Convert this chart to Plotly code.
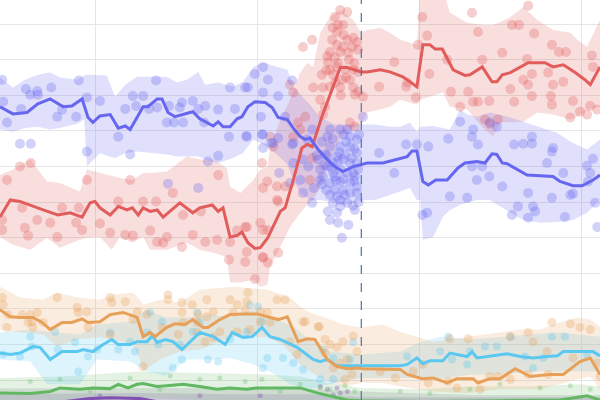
import plotly.graph_objects as go

# x = days from first grid line, y = vote share (%)
ELECTION_DAY = 49.3

# ---- blue ----
blue_day = [-17.6, -15.2, -12.6, -10.6, -8.3, -5.9, -4.3, -2.4, -1.3, -0.4, 0.9, 2.8, 4.3, 5.6, 6.5, 8.9, 9.8,
            11.5, 12.4, 13.5, 14.8, 18.1, 19.4, 21.9, 22.8, 23.7, 25.0, 26.3, 27.2, 28.3, 29.6, 31.5, 32.8, 33.9,
            35.6, 36.7, 38.0, 38.9, 39.8, 41.3, 43.0, 44.4, 45.9, 47.8, 49.4, 50.4, 53.3, 55.9, 57.8, 58.7, 59.6,
            60.7, 61.7, 63.1, 65.2, 67.2, 68.5, 70.7, 72.2, 73.5, 74.4, 75.4, 76.3, 80.0, 81.9, 84.8, 86.1, 88.5,
            90.2, 92.2, 93.5]
blue_avg = [43.4, 42.4, 42.6, 43.8, 44.5, 43.4, 43.5, 44.5, 41.9, 41.2, 42.1, 42.3, 40.4, 40.7, 40.2, 43.4, 43.4,
            44.5, 44.5, 42.6, 42.0, 42.7, 41.7, 40.7, 41.3, 40.6, 40.6, 41.7, 42.0, 43.4, 44.1, 44.0, 43.3, 41.9,
            41.6, 40.4, 39.2, 38.8, 39.0, 37.4, 36.0, 35.0, 34.3, 35.0, 35.3, 35.5, 35.5, 36.0, 36.4, 37.2, 37.2,
            32.9, 32.4, 33.1, 33.1, 34.8, 35.5, 35.7, 35.5, 36.8, 36.7, 35.5, 35.4, 33.8, 33.7, 33.6, 32.9, 32.3,
            32.3, 33.1, 33.8]
blue_band_day = [-17.6, -15.2, -13.0, -10.6, -8.3, -6.5, -3.3, -2.0, -1.5, 0.9, 2.2, 3.7, 5.6, 7.8, 10.2, 13.3,
                 15.2, 17.0, 19.1, 20.4, 22.8, 25.6, 27.4, 29.3, 31.1, 33.7, 35.6, 36.7, 38.0, 39.8, 41.7, 44.4,
                 46.3, 49.3, 51.9, 54.6, 56.5, 58.3, 59.6, 60.2, 60.7, 62.6, 64.4, 65.7, 67.6, 68.9, 70.7, 73.1,
                 76.9, 79.3, 82.4, 85.6, 88.5, 91.1, 93.5]
blue_band_hi = [47.5, 46.1, 47.2, 47.9, 48.2, 47.5, 47.2, 47.8, 47.9, 47.8, 47.8, 44.8, 46.5, 47.6, 47.6, 47.6,
                46.8, 47.2, 48.3, 46.5, 46.8, 46.2, 46.9, 49.0, 49.6, 49.0, 48.6, 46.2, 45.1, 43.7, 41.9, 40.9,
                40.9, 40.9, 40.9, 40.6, 40.6, 41.2, 39.9, 40.6, 40.6, 40.7, 40.4, 40.2, 43.0, 42.3, 42.0, 42.6,
                41.9, 41.3, 40.6, 39.7, 38.3, 37.4, 38.8]
blue_band_lo = [40.2, 39.9, 40.4, 40.6, 40.2, 40.4, 41.0, 41.6, 35.0, 36.9, 36.5, 36.2, 36.9, 37.1, 36.9, 36.7,
                36.4, 36.4, 36.4, 36.0, 35.5, 36.2, 36.9, 38.8, 38.1, 36.7, 35.3, 33.1, 31.3, 30.3, 30.3, 29.9,
                29.6, 30.3, 30.3, 31.0, 31.5, 32.0, 30.3, 30.3, 24.7, 25.1, 27.9, 28.9, 29.6, 29.9, 30.3, 30.3,
                28.5, 27.5, 27.1, 27.2, 27.5, 28.5, 30.3]
blue_poll_day = [-17.2, -17.0, -16.3, -13.9, -11.9, -13.7, -12.8, -12.0, -10.7, -10.6, -8.1, -7.0, -6.1, -3.5, -3.0,
                 -1.5, -1.5, 0.9, 4.3, 5.6, 6.5, 7.0, 7.6, 8.9, 10.0, 11.3, 11.5, 13.3, 13.7, 14.6, 15.7, 16.1,
                 16.3, 18.1, 19.1, 20.4, 20.2, 22.8, 24.8, 25.0, 25.9, 27.8, 28.3, 28.0, 29.6, 31.1, 32.0, 31.1,
                 33.9, 30.7, 31.1, 32.6, 33.9, 35.2, 36.5, 36.5, 22.8, 20.9, 13.5, 19.1,
                 46.7, 49.6, 47.2, 48.5, 43.0, 43.5, 45.4, 47.2, 48.5, 44.8, 45.9, 47.2, 48.5, 44.1, 43.0, 41.7,
                 42.2, 44.1, 45.4, 46.7, 47.8, 48.7, 41.7, 43.5, 45.4, 47.2, 48.5, 44.4, 45.9, 47.2, 48.5, 44.8,
                 45.4, 46.7, 45.4, 44.8, 43.1, 43.5, 45.0, 45.7, 39.3, 40.2, 43.5, 45.4, 38.5, 36.7, 36.7, 38.0,
                 38.5, 40.2, 36.1, 34.1, 33.0, 30.9, 28.1, 31.1, 42.6, 46.3, 48.1, 44.4, 41.3, 42.8, 48.1, 46.9,
                 42.0, 44.0, 46.0, 48.0, 43.0, 45.0, 47.5, 42.5, 44.6, 46.0, 48.0, 43.5, 46.2, 48.8, 44.0, 47.8,
                 42.0, 41.0, 39.5, 40.5, 46.5, 48.9, 45.2, 43.8,
                 52.6, 55.4, 57.6, 59.6, 61.7, 60.6, 61.5, 65.4, 67.6, 69.8, 70.0, 70.9, 73.1, 74.4, 80.9, 80.9,
                 79.3, 77.6, 84.8, 84.6, 83.7, 69.8, 71.7, 73.0, 70.7, 75.4, 80.2, 86.7, 91.1, 92.2, 91.7, 91.3,
                 65.7, 68.9, 84.6, 88.5, 88.0, 78.3, 81.1, 81.5, 80.2, 87.0, 77.2, 93.0, 92.6]
blue_poll = [47.2, 44.1, 41.2, 38.2, 38.2, 43.1, 45.9, 45.1, 45.6, 45.1, 46.1, 42.0, 43.0, 42.0, 47.1,
             44.7, 37.1, 44.2, 39.2, 43.1, 36.7, 44.9, 43.5, 44.9, 43.1, 47.1, 43.3, 41.2, 43.5, 41.2, 43.3, 44.0,
             41.2, 44.2, 43.1, 43.5, 41.2, 43.0, 39.2, 46.1, 43.1, 46.1, 46.1, 39.3, 48.0, 49.0, 47.2, 45.4,
             44.9, 42.0, 39.5, 38.3, 39.0, 42.0, 47.1, 38.1, 36.5, 35.7, 32.6, 32.0,
             40.2, 42.0, 39.2, 38.8, 39.2, 37.8, 37.8, 37.8, 36.9, 36.4, 36.0, 35.5, 35.5, 35.5, 35.0, 34.6,
             33.6, 34.1, 34.6, 34.1, 34.1, 34.6, 33.1, 32.7, 32.9, 32.7, 32.2, 31.7, 31.7, 31.3, 31.3, 30.8,
             30.3, 29.9, 29.4, 28.5, 28.7, 27.5, 27.1, 25.0, 38.8, 40.2, 40.2, 40.2, 36.0, 35.5, 38.3, 33.1,
             31.3, 29.9, 32.7, 34.1, 38.3, 39.5, 39.2, 37.6, 36.7, 36.7, 33.6, 33.6, 36.0, 31.7, 28.9, 26.8,
             38.5, 38.9, 39.5, 37.5, 36.5, 35.8, 36.2, 35.2, 33.0, 33.3, 33.0, 31.0, 31.0, 30.0, 29.8, 29.5,
             32.5, 36.5, 35.0, 32.0, 38.5, 39.5, 37.0, 34.8,
             36.9, 34.1, 38.1, 38.1, 37.8, 28.2, 28.5, 38.9, 41.3, 39.2, 40.2, 38.1, 41.2, 40.6, 39.2, 38.2,
             38.2, 38.1, 37.6, 37.1, 35.5, 35.0, 35.0, 33.6, 33.1, 32.2, 31.3, 34.1, 35.1, 36.1, 34.1, 32.9,
             30.8, 30.6, 30.6, 31.2, 31.0, 29.4, 29.4, 28.7, 27.8, 27.9, 28.2, 26.5, 29.9]

# ---- red ----
red_day = [-17.6, -15.7, -13.9, -11.5, -9.6, -6.9, -4.6, -2.4, -0.9, 0.0, 0.9, 2.8, 4.3, 5.9, 6.9, 8.0, 8.9, 10.2,
           11.5, 12.6, 15.7, 18.1, 19.4, 21.7, 22.8, 23.7, 25.0, 26.3, 27.2, 28.3, 29.6, 30.6, 32.0, 34.3, 35.2,
           36.7, 38.3, 39.3, 40.2, 42.0, 44.1, 45.4, 46.7, 49.3, 50.4, 52.8, 54.6, 57.0, 59.6, 60.7, 62.0, 63.0,
           64.3, 66.3, 68.5, 69.4, 71.7, 73.5, 74.4, 75.4, 76.9, 80.2, 81.1, 83.3, 84.8, 86.7, 88.9, 90.7, 91.7,
           93.5]
red_avg = [27.9, 30.3, 30.1, 29.4, 28.9, 28.2, 28.5, 27.9, 29.9, 30.1, 29.2, 28.2, 29.4, 28.9, 29.2, 28.2, 29.2,
           28.7, 28.9, 27.9, 29.9, 28.5, 29.2, 29.6, 28.7, 29.2, 25.1, 25.3, 25.8, 24.3, 23.5, 23.6, 25.0, 28.7,
           29.2, 33.1, 37.6, 38.1, 37.8, 42.0, 46.1, 48.9, 48.9, 48.3, 48.3, 48.6, 48.3, 47.6, 46.2, 52.1, 52.1,
           51.5, 51.5, 48.6, 47.8, 47.9, 49.0, 46.9, 46.9, 47.9, 48.2, 49.6, 49.6, 49.6, 49.0, 49.3, 48.2, 47.2,
           46.5, 49.0]
red_band_day = [-17.6, -15.2, -12.0, -8.9, -6.5, -2.8, -1.5, 0.9, 3.1, 4.6, 6.9, 8.9, 10.2, 13.3, 17.0, 19.4, 21.9,
                24.4, 25.0, 26.9, 29.3, 30.6, 31.9, 32.4, 34.3, 36.1, 38.0, 39.3, 40.4, 41.7, 43.5, 45.4, 47.8,
                49.3, 50.4, 52.8, 54.6, 56.5, 59.6, 60.2, 64.4, 65.7, 68.9, 71.9, 73.7, 75.0, 76.9, 79.3, 81.9,
                84.8, 88.0, 89.3, 91.1, 93.5]
red_band_hi = [33.8, 34.6, 36.0, 32.9, 32.7, 31.5, 34.6, 34.1, 33.7, 33.4, 33.1, 34.1, 34.1, 34.3, 36.4, 36.0,
               36.0, 34.8, 32.2, 31.3, 33.1, 34.6, 35.0, 37.4, 41.6, 44.4, 48.2, 49.6, 49.0, 53.8, 56.0, 57.0, 55.6,
               53.8, 54.2, 54.5, 53.8, 52.8, 52.1, 60.0, 60.0, 56.6, 55.2, 54.9, 54.9, 55.3, 56.0, 57.4, 55.6,
               54.2, 53.8, 52.8, 51.8, 55.6]
red_band_lo = [25.1, 24.0, 23.3, 25.0, 23.6, 24.7, 25.0, 25.1, 23.3, 25.1, 24.3, 25.1, 23.3, 23.3, 24.3, 23.3,
               22.9, 22.3, 18.7, 18.7, 19.1, 18.1, 18.4, 20.9, 23.7, 26.5, 28.5, 29.6, 30.3, 32.2, 36.0, 38.8, 40.4,
               40.9, 42.6, 43.0, 43.4, 44.4, 43.7, 44.4, 45.4, 43.4, 43.0, 40.4, 39.2, 41.2, 41.3, 41.3, 42.6,
               42.3, 41.6, 42.0, 43.0, 43.4]
red_poll_day = [-16.3, -13.9, -11.9, -17.2, -17.2, -13.5, -13.0, -12.4, -10.7, -8.3, -7.0, -6.1, -3.5, -3.0, -2.4,
                -1.5, 0.9, 2.8, 4.3, 5.6, 6.5, 7.0, 8.9, 10.2, 11.3, 11.5, 12.6, 13.3, 14.4, 16.1, 16.3, 18.1,
                19.6, 20.4, 22.6, 22.8, 25.0, 24.8, 26.3, 27.8, 27.8, 28.1, 29.6, 30.6, 31.1, 32.0, 33.9, 33.7,
                38.5, 40.2, 36.7, 36.1, 37.6, 38.9, 38.0, 36.7, 33.0, 32.4, 30.9, 31.9, 31.1, 33.7, 35.2, 33.9,
                31.1, 28.1, 31.9, 31.1, 39.8, 40.2,
                45.4, 46.7, 44.4, 45.0, 45.9, 44.8, 46.7, 47.8, 48.5, 43.9, 44.8, 45.9, 47.6, 48.7, 43.5, 45.4,
                46.9, 44.4, 43.1, 44.8, 46.3, 47.8, 48.7, 43.5, 42.0, 44.1, 45.7, 47.2, 42.2, 43.5, 47.8, 48.7,
                45.4, 41.7, 42.6, 48.1, 40.4, 49.6, 42.2, 47.2, 48.1,
                44.0, 46.0, 47.0, 45.0, 43.0, 48.0, 46.5, 44.5, 42.8, 45.5,
                52.6, 55.4, 57.6, 59.4, 59.8, 60.6, 61.5, 61.9, 57.8, 69.8, 70.9, 80.2, 77.2, 78.5, 81.3, 75.4,
                71.7, 65.2, 65.9, 69.1, 70.0, 70.9, 73.0, 67.6, 76.9, 77.6, 79.3, 80.2, 80.9, 80.0, 83.9, 84.6,
                85.9, 87.2, 86.7, 84.8, 84.6, 80.9, 88.5, 89.8, 88.0, 91.7, 92.0, 92.2, 91.1, 93.0, 72.2, 74.6,
                73.1, 84.4]
red_poll = [33.1, 35.0, 35.5, 27.5, 26.1, 29.2, 26.4, 25.3, 27.5, 27.1, 25.1, 29.2, 27.1, 29.2, 26.1,
            33.1, 27.0, 25.7, 30.1, 25.4, 33.1, 25.3, 30.1, 26.0, 30.1, 24.4, 24.3, 25.1, 31.3, 23.7, 28.2, 25.4,
            28.7, 24.4, 24.7, 33.8, 24.4, 21.9, 26.0, 26.5, 21.6, 23.0, 19.2, 27.1, 22.3, 21.5, 22.9, 30.3,
            51.8, 52.8, 45.4, 46.5, 41.2, 42.0, 40.2, 39.2, 37.8, 39.2, 35.5, 32.9, 32.0, 32.2, 32.2, 30.1,
            26.1, 26.5, 26.1, 22.2, 33.1, 36.2,
            57.0, 56.7, 56.0, 54.9, 54.9, 53.9, 52.8, 53.1, 52.5, 52.8, 52.1, 51.8, 51.8, 51.4, 51.1, 51.1,
            51.0, 50.3, 49.7, 49.0, 48.6, 48.6, 48.3, 48.6, 47.9, 47.9, 47.2, 47.2, 46.1, 46.2, 46.1, 45.5,
            46.1, 44.4, 43.4, 45.1, 46.1, 44.8, 42.3, 41.2, 40.6,
            54.5, 53.5, 50.0, 49.5, 50.5, 49.5, 47.5, 46.8, 48.5, 45.0,
            46.2, 49.7, 46.2, 44.7, 52.1, 56.0, 53.4, 48.0, 46.8, 56.6, 53.9, 57.6, 54.9, 54.9, 53.7, 51.0,
            50.0, 50.0, 45.5, 45.5, 44.1, 44.1, 44.2, 43.4, 45.9, 44.1, 47.2, 46.5, 48.0, 50.1, 48.2, 52.1,
            51.1, 51.1, 46.9, 46.5, 43.7, 44.9, 44.2, 42.7, 41.9, 43.5, 50.6, 49.0, 42.3, 43.0, 41.6, 41.6,
            41.0, 44.9]

# ---- orange ----
orange_day = [-17.6, -15.7, -13.9, -11.5, -9.8, -8.3, -6.1, -4.3, -2.4, -1.3, 0.9, 2.8, 5.2, 7.8, 8.9, 10.2, 11.1,
              13.3, 14.8, 16.7, 18.1, 20.0, 20.9, 23.1, 25.0, 27.4, 30.0, 31.9, 33.9, 35.6, 37.6, 39.3, 40.7, 43.0,
              44.8, 46.7, 48.5, 49.6, 56.5, 57.8, 60.6, 62.6, 65.2, 67.0, 70.0, 70.9, 73.1, 75.0, 77.8, 80.6,
              84.3, 86.7, 89.8, 91.7, 93.5]
orange_avg = [14.9, 13.9, 13.8, 13.8, 13.1, 12.1, 13.1, 13.1, 13.6, 13.1, 13.2, 14.2, 14.5, 13.8, 11.1, 11.7, 11.1,
              12.4, 12.9, 12.8, 13.5, 12.4, 12.4, 13.5, 14.2, 14.3, 14.3, 13.9, 13.5, 13.9, 10.4, 10.8, 10.7, 7.9,
              6.9, 6.6, 6.7, 6.6, 6.5, 5.8, 5.2, 5.3, 4.6, 5.2, 5.2, 4.6, 5.2, 5.2, 6.6, 5.5,
              5.8, 5.8, 7.6, 8.1, 5.8]
orange_band_day = [-17.6, -13.9, -9.6, -7.0, -3.3, 0.9, 3.3, 7.0, 8.3, 8.9, 12.0, 15.7, 19.4, 25.6, 31.9, 34.8,
                   36.7, 38.0, 39.8, 42.2, 45.9, 49.3, 53.3, 56.5, 62.6, 68.9, 75.0, 78.7, 82.4, 86.1, 89.3, 91.7,
                   93.5]
orange_band_hi = [18.1, 16.6, 16.3, 17.3, 16.6, 16.3, 17.0, 17.3, 16.3, 15.6, 16.3, 15.9, 17.7, 18.1, 17.7, 17.0,
                  16.3, 15.3, 14.5, 13.9, 12.8, 12.4, 12.8, 11.8, 10.4, 11.1, 11.7, 12.1, 12.1, 13.1, 13.8, 13.5,
                  12.5]
orange_band_lo = [12.1, 11.7, 11.4, 9.7, 10.7, 11.0, 10.7, 10.0, 7.9, 6.2, 7.9, 9.0, 9.3, 11.1, 11.0, 10.0,
                  8.3, 7.2, 6.2, 5.1, 4.1, 4.6, 4.6, 4.1, 3.4, 3.2, 3.7, 3.7, 3.7, 4.4, 5.1, 5.5, 3.7]
orange_poll_day = [-17.2, -17.0, -16.1, -16.3, -13.5, -12.0, -10.7, -11.7, -9.6, -12.4, -11.5, -7.0, -3.3, -3.1,
                   -1.5, -1.3, 2.8, 3.1, 5.6, 2.8, 7.0, 7.8, 8.9, 9.6, 13.5, 13.5, 16.1, 18.0, 16.1, 16.3, 12.4,
                   15.4, 18.9, 18.9, 19.1, 20.7, 21.9, 20.7, 21.9, 25.0, 26.3, 28.3, 28.1, 25.6, 27.8, 28.7, 30.6,
                   31.9, 33.7, 35.2, 32.4, 38.9, 41.3, 20.4, 23.1, 26.3, 30.6, 36.1, 37.4, 42.6, 43.5, 42.6, 44.8,
                   45.9, 47.8, 48.5, 46.7, 45.4, 44.1, 47.6, 46.3, 41.5, 38.5,
                   84.6, 88.0, 89.8, 91.7, 80.2, 76.9, 81.1, 65.7, 69.1, 60.7, 83.7, 88.5, 93.0, 58.9, 61.7, 65.4,
                   73.1, 74.6, 76.9, 80.2, 83.9, 93.5, 67.0, 71.3, 52.8, 55.6]
orange_poll = [16.6, 15.6, 14.2, 12.4, 14.2, 14.2, 14.5, 13.2, 13.1, 13.1, 12.4, 16.6, 15.2, 14.5,
               14.6, 12.4, 16.6, 15.9, 16.0, 11.4, 13.5, 14.6, 6.9, 14.2, 17.0, 16.3, 15.9, 15.6, 14.5, 13.1, 12.4,
               11.4, 13.1, 11.7, 14.2, 13.9, 11.0, 16.3, 14.6, 16.3, 15.6, 17.3, 16.0, 14.5, 14.9, 12.1, 14.6,
               14.5, 16.3, 16.3, 13.1, 13.2, 12.5, 10.4, 11.8, 11.8, 13.2, 10.4, 8.6, 10.7, 10.0, 8.8, 9.6,
               10.4, 11.2, 9.0, 7.9, 7.4, 6.7, 5.8, 5.1, 12.5, 13.2,
               13.1, 12.9, 12.4, 12.1, 11.7, 11.1, 10.4, 10.8, 10.8, 7.2, 9.0, 8.1, 7.4, 6.2, 4.6, 4.8,
               5.5, 5.5, 5.1, 5.8, 5.8, 5.5, 3.9, 3.7, 6.2, 5.3]

# ---- light blue ----
cyan_day = [-17.6, -15.7, -13.9, -11.5, -10.2, -8.3, -6.1, -3.3, -2.2, -0.4, 1.5, 3.1, 4.3, 6.5, 7.8, 9.6, 10.6,
            11.5, 13.0, 14.4, 16.1, 17.6, 19.4, 21.9, 24.1, 25.4, 27.4, 29.1, 30.9, 32.4, 34.3, 37.4, 40.4, 41.7,
            43.0, 44.8, 46.7, 49.1, 56.5, 57.8, 59.6, 60.7, 62.0, 64.4, 65.7, 68.9, 69.8, 70.7, 73.1, 76.3,
            78.7, 81.1, 83.7, 85.6, 86.7, 89.8, 92.2, 93.5]
cyan_avg = [8.8, 8.6, 8.8, 9.7, 9.6, 7.9, 9.0, 9.0, 9.3, 9.0, 10.0, 10.7, 10.0, 10.0, 10.4, 10.4, 11.2,
            10.3, 10.7, 10.4, 9.3, 10.4, 11.7, 11.1, 10.0, 11.7, 11.0, 11.1, 12.4, 11.1, 10.7, 9.6, 7.9, 7.6,
            7.9, 7.0, 7.0, 7.0, 7.0, 7.2, 8.1, 7.3, 7.7, 7.7, 8.8, 8.3, 9.0, 8.1, 8.4, 8.7,
            8.3, 8.1, 8.3, 8.4, 9.0, 9.0, 9.0, 8.4]
cyan_band_day = [-17.6, -12.0, -8.9, -2.8, 0.4, 6.5, 9.6, 13.0, 17.0, 21.3, 25.0, 29.3, 32.4, 36.1, 39.8, 43.5,
                 49.3, 56.5, 60.2, 63.9, 69.4, 75.0, 80.6, 86.1, 93.5]
cyan_band_hi = [11.7, 12.1, 11.8, 11.4, 12.8, 13.2, 14.9, 13.8, 13.8, 14.2, 13.8, 14.9, 13.8, 12.8, 10.7, 9.0,
                8.6, 9.0, 10.3, 11.1, 10.7, 11.0, 11.4, 11.7, 11.1]
cyan_band_lo = [7.9, 7.6, 4.4, 4.4, 7.9, 7.6, 6.2, 5.6, 7.9, 7.9, 8.1, 7.2, 6.2, 4.4, 3.7, 4.4,
                5.3, 5.3, 5.3, 5.1, 5.8, 5.8, 6.2, 6.2, 6.2]
cyan_poll_day = [-17.0, -13.9, -12.0, -11.7, -7.4, -6.9, -3.7, -1.3, 0.4, 2.8, 4.3, 6.5, 7.4, 10.2, 12.4, 9.6, 11.7,
                 14.4, 16.1, 15.7, 18.1, 18.9, 19.4, -3.1, 20.9, 22.8, 31.1, 28.7, 30.2, 30.9, 28.1, 25.0, 31.9,
                 34.8, 36.7, 38.5, 42.2, 44.1, 47.2, 47.8, 44.1, 41.7,
                 57.8, 65.4, 66.1, 68.9, 72.2, 74.4, 76.9, 81.1, 84.6, 87.0, 69.4, 79.6, 83.0, 91.1, 63.9]
cyan_poll = [8.6, 8.3, 11.1, 9.7, 11.8, 9.3, 10.3, 8.3, 9.3, 11.7, 9.3, 10.4, 9.0, 14.5, 13.2, 11.7, 10.0,
             6.7, 7.9, 10.0, 11.8, 14.5, 13.1, 6.2, 7.9, 7.6, 6.7, 15.6, 15.3, 13.2, 11.8, 10.7, 8.1,
             8.1, 7.4, 6.5, 9.3, 8.1, 7.9, 10.3, 5.1, 5.1,
             8.3, 11.1, 7.9, 7.2, 9.7, 9.7, 11.1, 6.7, 11.1, 11.1, 9.0, 8.3, 8.1, 8.6, 9.0]

# ---- green ----
green_day = [-17.6, -12.0, -8.3, -6.5, -2.8, -0.4, 2.8, 4.3, 6.1, 7.8, 8.9, 11.5, 13.3, 16.3, 19.4, 22.6, 25.0,
             28.1, 30.0, 31.9, 34.8, 38.0, 41.1, 44.1, 46.7, 49.3, 60.2, 75.0, 86.1, 91.1, 93.5]
green_avg = [3.2, 3.1, 3.4, 3.9, 3.7, 3.9, 3.8, 4.4, 3.9, 4.4, 4.5, 4.1, 4.2, 4.4, 4.1, 3.7, 3.9,
             3.7, 3.9, 3.9, 3.8, 3.9, 3.2, 2.7, 2.2, 2.1, 2.0, 2.1, 2.2, 2.8, 2.2]
green_band_day = [-17.6, -6.5, 8.3, 19.4, 31.9, 38.0, 43.5, 49.3, 60.2, 69.4, 80.6, 89.8, 93.5]
green_band_hi = [5.3, 5.5, 6.2, 6.0, 5.8, 5.5, 4.6, 3.9, 3.7, 4.1, 4.1, 4.4, 4.1]
green_band_lo = [1.5, 2.0, 2.5, 2.2, 2.2, 2.2, 1.5, 1.1, 0.8, 0.8, 0.8, 1.1, 0.8]
green_poll_day = [-12.0, -6.5, 6.5, 13.9, 19.4, 23.1, 27.8, 30.9, 38.0, 41.7, 43.5, 46.3, 48.1, 56.5, 62.0, 69.4,
                  75.0, 82.4, 88.0, 91.7, -0.9, 12.0, 34.3]
green_poll = [4.8, 5.1, 5.3, 5.6, 5.1, 5.3, 4.8, 5.1, 4.4, 3.9, 3.7, 4.2, 3.4, 3.4, 3.1, 3.7,
              4.4, 3.9, 4.2, 3.7, 3.4, 3.7, 3.4]

# ---- purple / grey ----
purple_day = [-17.6, -6.5, -0.9, 2.8, 8.3, 12.0, 25.0, 32.4, 39.8, 49.3, 93.5]
purple_avg = [1.9, 1.9, 2.4, 2.5, 2.4, 1.9, 2.0, 1.9, 1.8, 1.5, 1.5]
purple_band_day = [-17.6, 8.3, 25.0, 39.8, 49.3, 70.0, 93.5]
purple_band_hi = [3.0, 3.2, 3.0, 3.0, 2.6, 2.6, 2.6]
purple_band_lo = [1.0, 1.4, 1.2, 1.0, 0.6, 0.6, 0.6]
purple_poll_day = [41.7, 43.0, 44.8, 45.4, 46.7, 44.1, 0.9, 19.4, 30.6]
purple_poll = [4.1, 3.7, 3.9, 3.2, 3.4, 2.9, 2.8, 2.8, 2.8]
grey_band_day = [-17.6, 15.0, 38.0, 49.3, 70.0, 93.5]
grey_band_hi = [3.8, 3.9, 3.8, 3.4, 2.9, 2.9]
grey_band_lo = [0.5, 0.5, 0.5, 0.5, 0.5, 0.5]

fig = go.Figure()


def add_band(day, hi, lo, rgb, alpha=0.2):
    fig.add_trace(go.Scatter(x=day + day[::-1], y=hi + lo[::-1], fill='toself',
                             fillcolor='rgba(%d,%d,%d,%s)' % (rgb + (alpha,)),
                             line=dict(width=0), hoverinfo='skip', mode='lines'))


def add_polls(day, val, rgb, size, alpha=0.3):
    fig.add_trace(go.Scatter(x=day, y=val, mode='markers',
                             marker=dict(size=size, color='rgba(%d,%d,%d,%s)' % (rgb + (alpha,)), line=dict(width=0))))


def add_avg(day, val, rgb, width=3):
    fig.add_trace(go.Scatter(x=day, y=val, mode='lines',
                             line=dict(color='rgb(%d,%d,%d)' % rgb, width=width)))


BLUE = (102, 102, 240)
RED = (226, 92, 92)
ORANGE = (232, 160, 88)
CYAN = (90, 200, 240)
GREEN = (98, 184, 98)
PURPLE = (128, 80, 178)
GREY = (150, 150, 160)

add_band(grey_band_day, grey_band_hi, grey_band_lo, GREY, 0.25)
add_band(purple_band_day, purple_band_hi, purple_band_lo, PURPLE, 0.2)
add_band(green_band_day, green_band_hi, green_band_lo, GREEN, 0.18)
add_band(cyan_band_day, cyan_band_hi, cyan_band_lo, CYAN, 0.2)
add_band(orange_band_day, orange_band_hi, orange_band_lo, ORANGE, 0.2)
add_band(red_band_day, red_band_hi, red_band_lo, RED, 0.2)
add_band(blue_band_day, blue_band_hi, blue_band_lo, BLUE, 0.2)

add_polls(purple_poll_day, purple_poll, PURPLE, 5, 0.35)
add_polls(green_poll_day, green_poll, GREEN, 5, 0.3)
add_polls(cyan_poll_day, cyan_poll, CYAN, 8, 0.3)
add_polls(orange_poll_day, orange_poll, ORANGE, 9, 0.3)
add_polls(red_poll_day, red_poll, RED, 10, 0.3)
add_polls(blue_poll_day, blue_poll, BLUE, 10, 0.3)

add_avg(purple_day, purple_avg, PURPLE)
add_avg(green_day, green_avg, GREEN)
add_avg(cyan_day, cyan_avg, CYAN)
add_avg(orange_day, orange_avg, ORANGE)
add_avg(red_day, red_avg, RED)
add_avg(blue_day, blue_avg, BLUE)

fig.add_vline(x=ELECTION_DAY, line=dict(color='#4a74b0', width=1.2, dash='dash'))

fig.update_layout(width=600, height=400, margin=dict(l=0, r=0, t=0, b=0),
                  plot_bgcolor='white', paper_bgcolor='white', showlegend=False)
fig.update_xaxes(range=[-17.6, 93.5], tick0=0, dtick=30, showgrid=True, gridcolor='#e6e6e6', gridwidth=1,
                 zeroline=False, showticklabels=False, ticks='')
fig.update_yaxes(range=[2.2, 58.4], tick0=0, dtick=5, showgrid=True, gridcolor='#e6e6e6', gridwidth=1,
                 zeroline=False, showticklabels=False, ticks='')

# page body has a default 8px margin; drop it so the plot sits flush
fig.write_html("out.html", config={'displayModeBar': False},
               post_script="document.body.style.margin='0';")
